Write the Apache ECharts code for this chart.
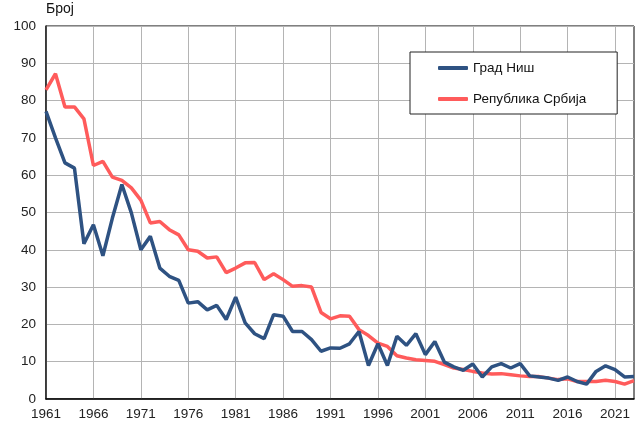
<!DOCTYPE html>
<html>
<head>
<meta charset="utf-8">
<script src="https://cdn.jsdelivr.net/npm/echarts@6/dist/echarts.min.js"></script>
<style>
html,body{margin:0;padding:0;background:#fff;}
#chart{width:636px;height:430px;}
</style>
</head>
<body>
<div id="chart"></div>
<script>
const years = [];
for (let y = 1961; y <= 2023; y++) years.push(String(y));

const nisValues = [
  77.1, 70.0, 63.3, 61.9, 41.6, 46.7, 38.4, 48.5, 57.5, 49.9,
  40.0, 43.6, 35.1, 32.9, 31.8, 25.7, 26.1, 23.9, 25.1, 21.3,
  27.3, 20.4, 17.5, 16.2, 22.6, 22.2, 18.1, 18.1, 15.9, 12.8,
  13.7, 13.6, 14.8, 18.1, 9.0, 14.8, 9.0, 16.8, 14.4, 17.5,
  11.9, 15.4, 9.9, 8.6, 7.7, 9.4, 5.9, 8.6, 9.5, 8.3,
  9.5, 6.2, 5.9, 5.6, 5.0, 5.9, 4.7, 4.0, 7.4, 8.9,
  7.9, 5.9, 6.0
];

const serbiaValues = [
  82.9, 87.2, 78.3, 78.3, 75.1, 62.6, 63.7, 59.5, 58.6, 56.6,
  53.3, 47.2, 47.6, 45.4, 44.0, 40.0, 39.6, 37.8, 38.1, 33.9,
  35.1, 36.5, 36.6, 32.0, 33.6, 32.0, 30.2, 30.4, 30.0, 23.2,
  21.5, 22.3, 22.2, 18.6, 17.0, 15.0, 14.1, 11.6, 11.0, 10.5,
  10.3, 10.1, 9.2, 8.3, 7.9, 7.4, 7.0, 6.7, 6.8, 6.5,
  6.2, 6.0, 6.0, 5.6, 5.2, 5.4, 4.7, 4.7, 4.7, 5.0,
  4.7, 4.0, 4.9
];

const seriesNames = ['Град Ниш', 'Република Србија'];
const yAxisName = 'Број';

const chart = echarts.init(document.getElementById('chart'), null, {renderer: 'canvas'});
const font = 'Liberation Sans, Arial, sans-serif';

chart.setOption({
  animation: false,
  backgroundColor: '#ffffff',
  textStyle: {fontFamily: font},
  grid: {
    left: 46, right: 2, top: 26, bottom: 31,
    show: true, borderColor: '#000', borderWidth: 1,
    containLabel: false
  },
  legend: {
    data: seriesNames,
    orient: 'vertical',
    left: 410, top: 52,
    icon: 'roundRect',
    itemWidth: 30, itemHeight: 4,
    itemGap: 17,
    padding: [9, 31, 8, 28],
    borderColor: '#222', borderWidth: 1,
    backgroundColor: '#fff',
    textStyle: {fontFamily: font, fontSize: 13.5, color: '#111', lineHeight: 14}
  },
  xAxis: {
    type: 'category',
    data: years,
    boundaryGap: false,
    axisLine: {lineStyle: {color: '#000', width: 1.5}},
    axisTick: {show: false},
    axisLabel: {interval: 4, margin: 8, fontSize: 13.5, color: '#222', fontFamily: font},
    splitLine: {show: true, interval: 4, lineStyle: {color: '#b4b4b4', width: 1}}
  },
  yAxis: {
    type: 'value',
    min: 0, max: 100, interval: 10,
    name: yAxisName,
    nameLocation: 'end',
    nameGap: 10,
    nameTextStyle: {align: 'left', verticalAlign: 'bottom', fontSize: 14, color: '#111', fontFamily: font},
    axisLine: {show: true, lineStyle: {color: '#222', width: 1.5}},
    axisTick: {show: false},
    axisLabel: {margin: 10, fontSize: 13.5, color: '#222', fontFamily: font},
    splitLine: {show: true, lineStyle: {color: '#b4b4b4', width: 1}}
  },
  series: [
    {
      name: seriesNames[0], type: 'line', data: nisValues,
      showSymbol: false, symbol: 'none',
      color: '#2e5282',
      lineStyle: {width: 3.5, color: '#2e5282'},
      z: 3
    },
    {
      name: seriesNames[1], type: 'line', data: serbiaValues,
      showSymbol: false, symbol: 'none',
      color: '#ff5b5b',
      lineStyle: {width: 3.5, color: '#ff5b5b'},
      z: 2
    }
  ]
});
</script>
</body>
</html>
